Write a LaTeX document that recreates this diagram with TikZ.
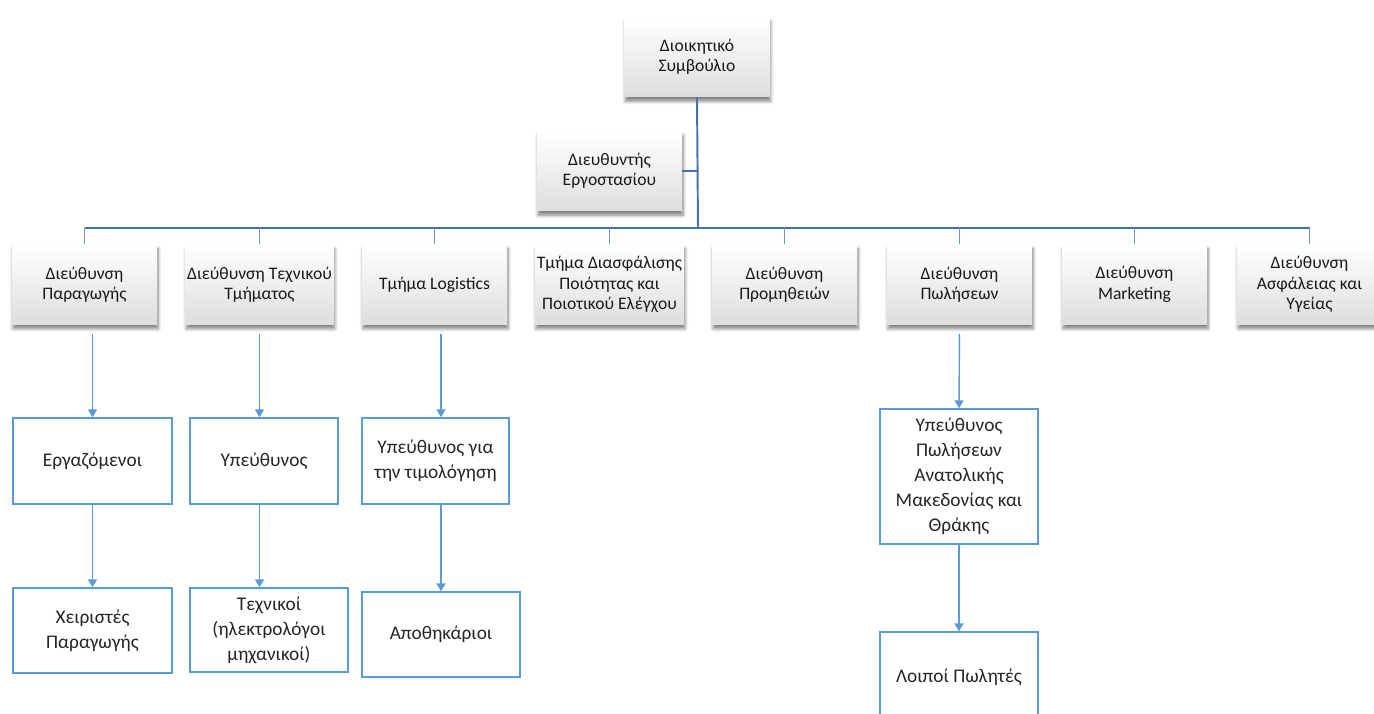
\documentclass[tikz,border=0pt]{standalone}
\usepackage{fontspec}
\setmainfont{Carlito}
\usepackage{tikz}
\usetikzlibrary{arrows.meta,positioning,calc,shadows.blur}
\definecolor{linkblue}{RGB}{68,114,176}
\definecolor{boxblue}{RGB}{91,155,213}

\begin{document}
\begin{tikzpicture}[x=0.02cm,y=-0.02cm,
 head/.style={align=center, text=black!90, minimum width=2.9cm, minimum height=1.6cm, inner xsep=1pt,
  top color=white, bottom color=black!13,
  blur shadow={shadow xshift=0.6pt, shadow yshift=-2.4pt, shadow blur steps=6, shadow opacity=50},
  font=\fontsize{10}{11.6}\selectfont},
 unit/.style={draw=boxblue, line width=0.8pt, fill=white, align=center, text=black!85,
  font=\fontsize{11}{14.2}\selectfont},
 bus/.style={draw=linkblue, line width=1.1pt},
 drop/.style={draw=linkblue!75, line width=0.7pt},
 arr/.style={draw=boxblue, line width=0.8pt, -{Triangle[width=1.8mm,length=1.6mm]}, shorten <=1.8mm}]
\clip (0,0) rectangle (1374,714);
\node[head] (ds) at (697,57) {Διοικητικό\\Συμβούλιο};
\node[head] (de) at (609.5,171) {Διευθυντής\\Εργοστασίου};
\node[head] (d1) at (84.5,284.5) {Διεύθυνση\\Παραγωγής};
\node[head] (d2) at (259.5,284.5) {Διεύθυνση Τεχνικού\\Τμήματος};
\node[head] (d3) at (434.5,284.5) {Τμήμα Logistics};
\node[head] (d4) at (609.5,284.5) {Τμήμα Διασφάλισης\\Ποιότητας και\\Ποιοτικού Ελέγχου};
\node[head] (d5) at (784.5,284.5) {Διεύθυνση\\Προμηθειών};
\node[head] (d6) at (959.5,284.5) {Διεύθυνση\\Πωλήσεων};
\node[head] (d7) at (1134.5,284.5) {Διεύθυνση\\Marketing};
\node[head] (d8) at (1309.5,284.5) {Διεύθυνση\\Ασφάλειας και\\Υγείας};
\coordinate (bus) at (698,228);
\draw[bus] (ds.south) -- (bus);
\draw[bus] (de.east) -- (de.east -| ds.south);
\draw[bus] (bus -| d1.north) -- (bus -| d8.north);
\draw[drop] (d1.north) -- (bus -| d1.north);
\draw[drop] (d2.north) -- (bus -| d2.north);
\draw[drop] (d3.north) -- (bus -| d3.north);
\draw[drop] (d4.north) -- (bus -| d4.north);
\draw[drop] (d5.north) -- (bus -| d5.north);
\draw[drop] (d6.north) -- (bus -| d6.north);
\draw[drop] (d7.north) -- (bus -| d7.north);
\draw[drop] (d8.north) -- (bus -| d8.north);
\node[unit, minimum width=3.18cm, minimum height=1.72cm] (d1_1) at (92.5,461) {Εργαζόμενοι};
\node[unit, minimum width=3.18cm, minimum height=1.7cm] (d1_2) at (92.5,630.5) {Χειριστές\\Παραγωγής};
\node[unit, minimum width=2.96cm, minimum height=1.72cm] (d2_1) at (264,461) {Υπεύθυνος};
\node[unit, minimum width=3.16cm, minimum height=1.68cm] (d2_2) at (269,630) {Τεχνικοί\\(ηλεκτρολόγοι\\μηχανικοί)};
\node[unit, minimum width=2.94cm, minimum height=1.72cm] (d3_1) at (435.5,461) {Υπεύθυνος για\\την τιμολόγηση};
\node[unit, minimum width=3.16cm, minimum height=1.7cm] (d3_2) at (441,634.5) {Αποθηκάριοι};
\node[unit, minimum width=3.16cm, minimum height=2.7cm] (d6_1) at (959,476.5) {Υπεύθυνος\\Πωλήσεων\\Ανατολικής\\Μακεδονίας και\\Θράκης};
\node[unit, minimum width=3.16cm, minimum height=1.8cm] (d6_2) at (959,677) {Λοιποί Πωλητές};
\draw[arr] (d1.south -| d1_1.north) -- (d1_1.north);
\draw[arr] (d2.south) -- (d2.south |- d2_1.north);
\draw[arr] (d3.south -| d3_2.north) -- (d3_1.north -| d3_2.north);
\draw[arr] (d6.south) -- (d6_1.north);
\draw[arr, shorten <=0pt] (d1_1.south) -- (d1_2.north);
\draw[arr, shorten <=0pt] (d2_1.south -| d2.south) -- (d2_2.north -| d2.south);
\draw[arr, shorten <=0pt] (d3_1.south -| d3_2.north) -- (d3_2.north);
\draw[arr, shorten <=0pt] (d6_1.south) -- (d6_2.north);
\end{tikzpicture}
\end{document}
